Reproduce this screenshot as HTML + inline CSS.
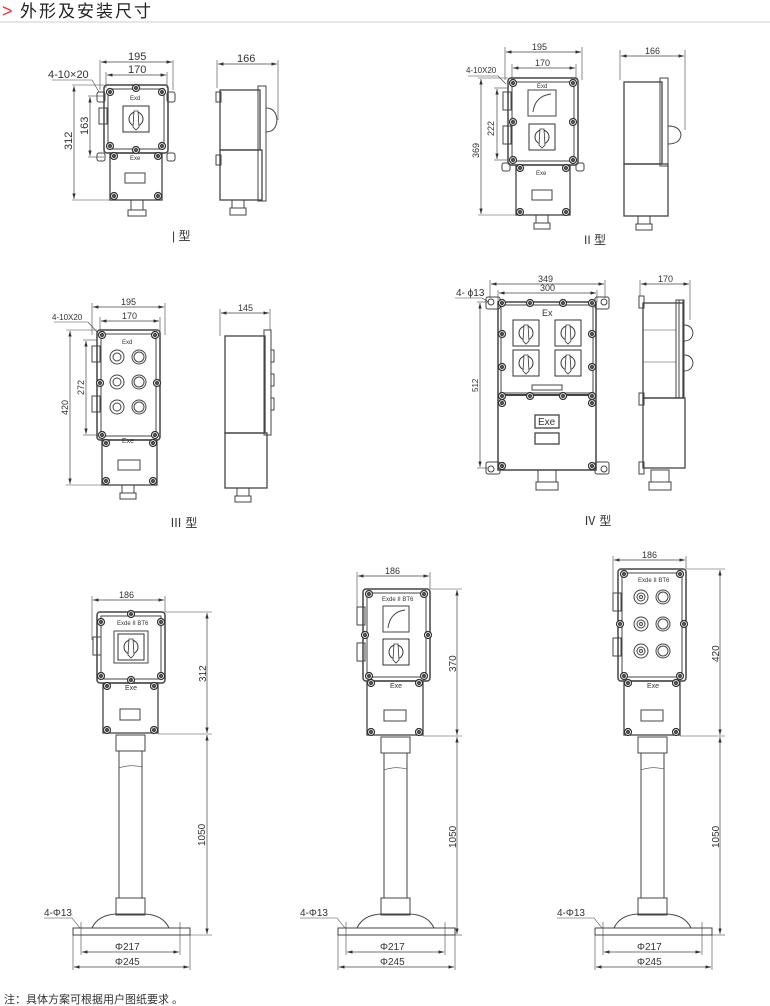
<!DOCTYPE html>
<html><head><meta charset="utf-8"><style>
html,body{margin:0;padding:0;background:#fff;width:770px;height:1006px;overflow:hidden}
svg{display:block}
text{font-family:"Liberation Sans","Noto Sans CJK SC",sans-serif;fill:#333}
</style></head><body>
<svg width="770" height="1006" viewBox="0 0 770 1006" xmlns="http://www.w3.org/2000/svg">
<defs>
<marker id="a" viewBox="0 0 10 6" refX="10" refY="3" markerWidth="8" markerHeight="5" orient="auto-start-reverse"><path d="M0,0L10,3L0,6z" fill="#333"/></marker>
<g id="bolt"><circle r="3.5" fill="#fff" stroke="#333" stroke-width="1.2"/><circle r="1.6" fill="#555"/></g>
<g id="sw"><rect x="-13" y="-13" width="26" height="26" fill="#fff" stroke="#333"/><circle r="7" fill="none" stroke="#333"/><path d="M-2,-8L2,-8L3,8L0,11L-3,8z" fill="#fff" stroke="#333" stroke-width=".8"/></g>
</defs>
<g fill="none" stroke="#444" stroke-width="1">
<line x1="0" y1="22" x2="770" y2="22" stroke="#ddd" stroke-width="1.5"/>

<!-- ===== Type I front ===== -->
<rect x="97" y="92" width="8" height="10" rx="2"/><rect x="167" y="92" width="8" height="10" rx="2"/>
<rect x="97" y="153" width="8" height="8" rx="2"/><rect x="167" y="153" width="8" height="8" rx="2"/>
<rect x="104" y="85" width="64" height="68" rx="3" stroke-width="1.5"/>
<rect x="108" y="89" width="56" height="60"/>
<use href="#sw" x="136" y="119"/>
<rect x="99" y="108" width="8" height="16"/>
<rect x="110" y="153" width="52" height="47" stroke-width="1.3"/>
<rect x="125" y="173" width="20" height="10"/>
<rect x="131" y="200" width="12" height="10"/><rect x="128" y="210" width="18" height="6"/>
<use href="#bolt" x="110" y="92"/><use href="#bolt" x="162" y="92"/><use href="#bolt" x="136" y="88"/>
<use href="#bolt" x="110" y="146"/><use href="#bolt" x="162" y="146"/><use href="#bolt" x="136" y="150"/>
<use href="#bolt" x="114" y="156"/><use href="#bolt" x="158" y="156"/><use href="#bolt" x="114" y="196"/><use href="#bolt" x="158" y="196"/>
<line x1="100" y1="60" x2="100" y2="90" stroke-width=".6"/><line x1="173" y1="60" x2="173" y2="90" stroke-width=".6"/>
<line x1="101" y1="62" x2="172" y2="62" marker-start="url(#a)" marker-end="url(#a)" stroke-width=".7"/>
<line x1="106" y1="72" x2="106" y2="88" stroke-width=".6"/><line x1="167" y1="72" x2="167" y2="88" stroke-width=".6"/>
<line x1="107" y1="75" x2="166" y2="75" marker-start="url(#a)" marker-end="url(#a)" stroke-width=".7"/>
<line x1="72" y1="85" x2="104" y2="85" stroke-width=".6"/><line x1="72" y1="200" x2="110" y2="200" stroke-width=".6"/>
<line x1="74" y1="86" x2="74" y2="199" marker-start="url(#a)" marker-end="url(#a)" stroke-width=".7"/>
<line x1="88" y1="96" x2="104" y2="96" stroke-width=".6"/><line x1="88" y1="157" x2="104" y2="157" stroke-width=".6"/>
<line x1="90" y1="97" x2="90" y2="156" marker-start="url(#a)" marker-end="url(#a)" stroke-width=".7"/>
<line x1="52" y1="80" x2="92" y2="80" stroke-width=".6"/><line x1="92" y1="80" x2="99" y2="92" stroke-width=".6"/>
<!-- Type I side -->
<rect x="220" y="90" width="40" height="60" stroke-width="1.3"/><rect x="220" y="150" width="42" height="50" stroke-width="1.3"/>
<rect x="258" y="86" width="8" height="115"/>
<rect x="216" y="92" width="5" height="10"/><rect x="216" y="155" width="5" height="10"/>
<path d="M266,108 Q276,108 277,120 Q276,132 266,132"/>
<rect x="232" y="200" width="12" height="8"/><rect x="230" y="208" width="16" height="7"/>
<line x1="217" y1="60" x2="217" y2="88" stroke-width=".6"/><line x1="278" y1="60" x2="278" y2="120" stroke-width=".6"/>
<line x1="218" y1="64" x2="277" y2="64" marker-start="url(#a)" marker-end="url(#a)" stroke-width=".7"/>

<!-- ===== Type II front ===== -->
<rect x="508" y="78" width="70" height="87" rx="3" stroke-width="1.5"/>
<rect x="512" y="82" width="62" height="79"/>
<rect x="528" y="90" width="28" height="26"/><path d="M533,112 Q535,96 551,94"/>
<use href="#sw" x="542" y="137"/>
<rect x="503" y="92" width="8" height="18"/><rect x="503" y="126" width="8" height="18"/>
<rect x="516" y="165" width="54" height="50" stroke-width="1.3"/><rect x="532" y="190" width="20" height="10"/>
<rect x="536" y="215" width="12" height="8"/><rect x="534" y="223" width="16" height="6"/>
<use href="#bolt" x="513" y="83"/><use href="#bolt" x="573" y="83"/><use href="#bolt" x="513" y="160"/><use href="#bolt" x="573" y="160"/>
<use href="#bolt" x="513" y="122"/><use href="#bolt" x="573" y="122"/>
<use href="#bolt" x="520" y="168"/><use href="#bolt" x="566" y="168"/><use href="#bolt" x="520" y="212"/><use href="#bolt" x="566" y="212"/>
<rect x="502" y="163" width="8" height="8" rx="2"/><rect x="576" y="163" width="8" height="8" rx="2"/>
<line x1="505" y1="47" x2="505" y2="80" stroke-width=".6"/><line x1="582" y1="47" x2="582" y2="80" stroke-width=".6"/>
<line x1="506" y1="52" x2="581" y2="52" marker-start="url(#a)" marker-end="url(#a)" stroke-width=".7"/>
<line x1="512" y1="64" x2="512" y2="80" stroke-width=".6"/><line x1="576" y1="64" x2="576" y2="80" stroke-width=".6"/>
<line x1="513" y1="68" x2="575" y2="68" marker-start="url(#a)" marker-end="url(#a)" stroke-width=".7"/>
<line x1="478" y1="78" x2="508" y2="78" stroke-width=".6"/><line x1="478" y1="215" x2="516" y2="215" stroke-width=".6"/>
<line x1="481" y1="79" x2="481" y2="214" marker-start="url(#a)" marker-end="url(#a)" stroke-width=".7"/>
<line x1="494" y1="88" x2="508" y2="88" stroke-width=".6"/><line x1="494" y1="160" x2="508" y2="160" stroke-width=".6"/>
<line x1="497" y1="89" x2="497" y2="159" marker-start="url(#a)" marker-end="url(#a)" stroke-width=".7"/>
<line x1="468" y1="76" x2="498" y2="76" stroke-width=".6"/><line x1="498" y1="76" x2="506" y2="84" stroke-width=".6"/>
<!-- Type II side -->
<rect x="624" y="82" width="38" height="82" stroke-width="1.3"/><rect x="624" y="164" width="44" height="52" stroke-width="1.3"/>
<rect x="660" y="78" width="8" height="88"/>
<path d="M668,126 Q680,126 681,135 Q680,144 668,144"/>
<rect x="638" y="216" width="12" height="8"/><rect x="636" y="224" width="16" height="6"/>
<line x1="620" y1="50" x2="620" y2="80" stroke-width=".6"/><line x1="685" y1="50" x2="685" y2="130" stroke-width=".6"/>
<line x1="621" y1="56" x2="684" y2="56" marker-start="url(#a)" marker-end="url(#a)" stroke-width=".7"/>

<!-- ===== Type III front ===== -->
<rect x="97" y="330" width="63" height="110" rx="3" stroke-width="1.5"/>
<rect x="101" y="334" width="55" height="102"/>
<circle cx="117" cy="357" r="7"/><circle cx="117" cy="357" r="4"/><circle cx="139" cy="357" r="7"/><circle cx="139" cy="357" r="5"/>
<circle cx="117" cy="382" r="7"/><circle cx="117" cy="382" r="4"/><circle cx="139" cy="382" r="7"/><circle cx="139" cy="382" r="5"/>
<circle cx="117" cy="407" r="7"/><circle cx="117" cy="407" r="4"/><circle cx="139" cy="407" r="7"/><circle cx="139" cy="407" r="5"/>
<rect x="92" y="346" width="8" height="16"/><rect x="92" y="396" width="8" height="16"/>
<rect x="102" y="440" width="55" height="45" stroke-width="1.3"/><rect x="118" y="460" width="22" height="10"/>
<rect x="122" y="485" width="12" height="8"/><rect x="120" y="493" width="16" height="6"/>
<use href="#bolt" x="102" y="335"/><use href="#bolt" x="155" y="335"/><use href="#bolt" x="102" y="435"/><use href="#bolt" x="155" y="435"/>
<use href="#bolt" x="100" y="383"/><use href="#bolt" x="157" y="383"/>
<use href="#bolt" x="106" y="443"/><use href="#bolt" x="153" y="443"/><use href="#bolt" x="106" y="481"/><use href="#bolt" x="153" y="481"/>
<line x1="92" y1="303" x2="92" y2="335" stroke-width=".6"/><line x1="165" y1="303" x2="165" y2="335" stroke-width=".6"/>
<line x1="93" y1="307" x2="164" y2="307" marker-start="url(#a)" marker-end="url(#a)" stroke-width=".7"/>
<line x1="100" y1="317" x2="100" y2="332" stroke-width=".6"/><line x1="160" y1="317" x2="160" y2="332" stroke-width=".6"/>
<line x1="101" y1="321" x2="159" y2="321" marker-start="url(#a)" marker-end="url(#a)" stroke-width=".7"/>
<line x1="66" y1="330" x2="97" y2="330" stroke-width=".6"/><line x1="66" y1="485" x2="102" y2="485" stroke-width=".6"/>
<line x1="70" y1="331" x2="70" y2="484" marker-start="url(#a)" marker-end="url(#a)" stroke-width=".7"/>
<line x1="83" y1="340" x2="97" y2="340" stroke-width=".6"/><line x1="83" y1="435" x2="97" y2="435" stroke-width=".6"/>
<line x1="86" y1="341" x2="86" y2="434" marker-start="url(#a)" marker-end="url(#a)" stroke-width=".7"/>
<line x1="54" y1="322" x2="88" y2="322" stroke-width=".6"/><line x1="88" y1="322" x2="98" y2="333" stroke-width=".6"/>
<!-- Type III side -->
<rect x="225" y="336" width="40" height="97" stroke-width="1.3"/><rect x="225" y="433" width="42" height="55" stroke-width="1.3"/>
<rect x="264" y="330" width="7" height="105"/>
<rect x="271" y="350" width="3" height="12"/><rect x="271" y="374" width="3" height="12"/><rect x="271" y="398" width="3" height="12"/>
<rect x="237" y="488" width="12" height="8"/><rect x="235" y="496" width="16" height="6"/>
<line x1="220" y1="309" x2="220" y2="336" stroke-width=".6"/><line x1="270" y1="309" x2="270" y2="330" stroke-width=".6"/>
<line x1="221" y1="313" x2="269" y2="313" marker-start="url(#a)" marker-end="url(#a)" stroke-width=".7"/>

<!-- ===== Type IV front ===== -->
<rect x="486" y="297" width="14" height="12" rx="2"/><rect x="595" y="297" width="14" height="12" rx="2"/>
<rect x="486" y="462" width="14" height="12" rx="2"/><rect x="595" y="462" width="14" height="12" rx="2"/>
<circle cx="491" cy="302" r="3"/><circle cx="604" cy="302" r="3"/><circle cx="491" cy="469" r="3"/><circle cx="604" cy="469" r="3"/>
<rect x="498" y="302" width="98" height="168" stroke-width="1.5"/>
<rect x="501" y="305" width="92" height="88"/>
<line x1="498" y1="395" x2="596" y2="395" stroke-width="2"/>
<use href="#sw" x="526" y="333"/><use href="#sw" x="568" y="333"/>
<use href="#sw" x="526" y="363"/><use href="#sw" x="568" y="363"/>
<rect x="532" y="385" width="30" height="5"/>
<rect x="535" y="415" width="24" height="13" stroke-width="1.3"/><rect x="535" y="433" width="24" height="11" stroke-width="1.3"/>
<rect x="538" y="470" width="18" height="12"/><rect x="536" y="482" width="22" height="8"/>
<use href="#bolt" x="502" y="303"/><use href="#bolt" x="530" y="303"/><use href="#bolt" x="563" y="303"/><use href="#bolt" x="592" y="303"/>
<use href="#bolt" x="502" y="334"/><use href="#bolt" x="592" y="334"/><use href="#bolt" x="502" y="367"/><use href="#bolt" x="592" y="367"/>
<use href="#bolt" x="502" y="396"/><use href="#bolt" x="530" y="396"/><use href="#bolt" x="563" y="396"/><use href="#bolt" x="592" y="396"/>
<use href="#bolt" x="502" y="403"/><use href="#bolt" x="592" y="403"/><use href="#bolt" x="502" y="466"/><use href="#bolt" x="592" y="466"/>
<line x1="490" y1="280" x2="490" y2="298" stroke-width=".6"/><line x1="605" y1="280" x2="605" y2="298" stroke-width=".6"/>
<line x1="491" y1="284" x2="604" y2="284" marker-start="url(#a)" marker-end="url(#a)" stroke-width=".7"/>
<line x1="498" y1="290" x2="498" y2="302" stroke-width=".6"/><line x1="597" y1="290" x2="597" y2="302" stroke-width=".6"/>
<line x1="499" y1="293" x2="596" y2="293" marker-start="url(#a)" marker-end="url(#a)" stroke-width=".7"/>
<line x1="477" y1="302" x2="488" y2="302" stroke-width=".6"/><line x1="477" y1="468" x2="488" y2="468" stroke-width=".6"/>
<line x1="480" y1="303" x2="480" y2="467" marker-start="url(#a)" marker-end="url(#a)" stroke-width=".7"/>
<line x1="455" y1="298" x2="482" y2="298" stroke-width=".6"/><line x1="482" y1="298" x2="489" y2="302" stroke-width=".6"/>
<!-- Type IV side -->
<rect x="643" y="303" width="40" height="95" stroke-width="1.3"/><rect x="643" y="398" width="42" height="70" stroke-width="1.3"/>
<rect x="676" y="300" width="8" height="98"/><rect x="679" y="300" width="4" height="98"/>
<rect x="639" y="296" width="5" height="12"/><rect x="639" y="393" width="5" height="12"/><rect x="639" y="462" width="5" height="12"/>
<path d="M684,325 Q692,325 693,333 Q692,341 684,341"/><path d="M684,355 Q692,355 693,363 Q692,371 684,371"/>
<line x1="643" y1="330" x2="676" y2="330" stroke-width=".6"/><line x1="643" y1="362" x2="676" y2="362" stroke-width=".6"/>
<rect x="651" y="470" width="18" height="12"/><rect x="649" y="482" width="22" height="8"/>
<line x1="640" y1="280" x2="640" y2="296" stroke-width=".6"/><line x1="690" y1="280" x2="690" y2="320" stroke-width=".6"/>
<line x1="641" y1="284" x2="689" y2="284" marker-start="url(#a)" marker-end="url(#a)" stroke-width=".7"/>

<!-- ===== Stand 1 ===== -->
<rect x="97" y="612" width="68" height="71" rx="3" stroke-width="1.5"/><rect x="101" y="616" width="60" height="63"/>
<rect x="114" y="631" width="34" height="32" fill="#fff"/><use href="#sw" x="131" y="647"/>
<rect x="93" y="637" width="8" height="18"/>
<rect x="103" y="683" width="55" height="50" stroke-width="1.3"/><rect x="120" y="709" width="20" height="11"/>
<use href="#bolt" x="101" y="622"/><use href="#bolt" x="161" y="622"/><use href="#bolt" x="101" y="676"/><use href="#bolt" x="161" y="676"/>
<use href="#bolt" x="131" y="614"/><use href="#bolt" x="131" y="680"/>
<use href="#bolt" x="107" y="686"/><use href="#bolt" x="154" y="686"/><use href="#bolt" x="107" y="730"/><use href="#bolt" x="154" y="730"/>
<rect x="116" y="735" width="29" height="16"/><rect x="119" y="751" width="23" height="147"/>
<path d="M119,768 Q130,764 142,767" stroke-width=".6"/>
<rect x="116" y="898" width="29" height="17"/>
<path d="M92,928 Q98,915 116,914 L145,914 Q163,915 169,928"/>
<rect x="73" y="928" width="117" height="7"/>
<line x1="92" y1="596" x2="92" y2="640" stroke-width=".6"/><line x1="165" y1="596" x2="165" y2="612" stroke-width=".6"/>
<line x1="93" y1="600" x2="164" y2="600" marker-start="url(#a)" marker-end="url(#a)" stroke-width=".7"/>
<line x1="165" y1="612" x2="212" y2="612" stroke-width=".6"/><line x1="158" y1="734" x2="212" y2="734" stroke-width=".6"/><line x1="190" y1="935" x2="212" y2="935" stroke-width=".6"/>
<line x1="207" y1="613" x2="207" y2="733" marker-start="url(#a)" marker-end="url(#a)" stroke-width=".7"/>
<line x1="207" y1="735" x2="207" y2="934" marker-start="url(#a)" marker-end="url(#a)" stroke-width=".7"/>
<line x1="81" y1="922" x2="81" y2="955" stroke-width=".6"/><line x1="180" y1="922" x2="180" y2="955" stroke-width=".6"/>
<line x1="82" y1="952" x2="179" y2="952" marker-start="url(#a)" marker-end="url(#a)" stroke-width=".7"/>
<line x1="73" y1="935" x2="73" y2="970" stroke-width=".6"/><line x1="190" y1="935" x2="190" y2="970" stroke-width=".6"/>
<line x1="74" y1="967" x2="189" y2="967" marker-start="url(#a)" marker-end="url(#a)" stroke-width=".7"/>
<line x1="44" y1="918" x2="72" y2="918" stroke-width=".6"/><line x1="72" y1="918" x2="80" y2="928" stroke-width=".6"/>

<!-- ===== Stand 2 ===== -->
<rect x="363" y="589" width="67" height="92" rx="3" stroke-width="1.5"/><rect x="367" y="593" width="59" height="84"/>
<rect x="383" y="606" width="26" height="26"/><path d="M388,628 Q390,612 405,610"/>
<use href="#sw" x="396" y="652"/>
<rect x="357" y="607" width="8" height="18"/><rect x="357" y="643" width="8" height="18"/>
<rect x="367" y="681" width="56" height="54" stroke-width="1.3"/><rect x="384" y="710" width="22" height="11"/>
<use href="#bolt" x="369" y="594"/><use href="#bolt" x="424" y="594"/><use href="#bolt" x="369" y="676"/><use href="#bolt" x="424" y="676"/>
<use href="#bolt" x="365" y="635"/><use href="#bolt" x="428" y="635"/>
<use href="#bolt" x="371" y="683"/><use href="#bolt" x="419" y="683"/><use href="#bolt" x="371" y="732"/><use href="#bolt" x="419" y="732"/>
<rect x="381" y="737" width="29" height="16"/><rect x="384" y="753" width="23" height="145"/>
<path d="M384,770 Q395,766 407,769" stroke-width=".6"/>
<rect x="381" y="898" width="29" height="17"/>
<path d="M357,928 Q363,915 381,914 L410,914 Q428,915 434,928"/>
<rect x="338" y="928" width="117" height="7"/>
<line x1="357" y1="572" x2="357" y2="607" stroke-width=".6"/><line x1="430" y1="572" x2="430" y2="589" stroke-width=".6"/>
<line x1="358" y1="576" x2="429" y2="576" marker-start="url(#a)" marker-end="url(#a)" stroke-width=".7"/>
<line x1="430" y1="589" x2="462" y2="589" stroke-width=".6"/><line x1="423" y1="736" x2="462" y2="736" stroke-width=".6"/><line x1="455" y1="935" x2="462" y2="935" stroke-width=".6"/>
<line x1="457" y1="590" x2="457" y2="735" marker-start="url(#a)" marker-end="url(#a)" stroke-width=".7"/>
<line x1="457" y1="737" x2="457" y2="934" marker-start="url(#a)" marker-end="url(#a)" stroke-width=".7"/>
<line x1="346" y1="922" x2="346" y2="955" stroke-width=".6"/><line x1="445" y1="922" x2="445" y2="955" stroke-width=".6"/>
<line x1="347" y1="952" x2="444" y2="952" marker-start="url(#a)" marker-end="url(#a)" stroke-width=".7"/>
<line x1="338" y1="935" x2="338" y2="970" stroke-width=".6"/><line x1="455" y1="935" x2="455" y2="970" stroke-width=".6"/>
<line x1="339" y1="967" x2="454" y2="967" marker-start="url(#a)" marker-end="url(#a)" stroke-width=".7"/>
<line x1="300" y1="918" x2="337" y2="918" stroke-width=".6"/><line x1="337" y1="918" x2="345" y2="928" stroke-width=".6"/>

<!-- ===== Stand 3 ===== -->
<rect x="618" y="569" width="68" height="112" rx="3" stroke-width="1.5"/><rect x="622" y="573" width="60" height="104"/>
<circle cx="641" cy="597" r="7"/><circle cx="641" cy="597" r="4"/><circle cx="641" cy="597" r="1.5"/><circle cx="663" cy="597" r="7"/><circle cx="663" cy="597" r="5"/>
<circle cx="641" cy="624" r="7"/><circle cx="641" cy="624" r="4"/><circle cx="641" cy="624" r="1.5"/><circle cx="663" cy="624" r="7"/><circle cx="663" cy="624" r="5"/>
<circle cx="641" cy="651" r="7"/><circle cx="641" cy="651" r="4"/><circle cx="641" cy="651" r="1.5"/><circle cx="663" cy="651" r="7"/><circle cx="663" cy="651" r="5"/>
<rect x="613" y="593" width="8" height="18"/><rect x="613" y="638" width="8" height="18"/>
<rect x="624" y="681" width="56" height="54" stroke-width="1.3"/><rect x="641" y="710" width="22" height="11"/>
<use href="#bolt" x="624" y="574"/><use href="#bolt" x="680" y="574"/><use href="#bolt" x="624" y="676"/><use href="#bolt" x="680" y="676"/>
<use href="#bolt" x="620" y="624"/><use href="#bolt" x="684" y="624"/>
<use href="#bolt" x="628" y="683"/><use href="#bolt" x="676" y="683"/><use href="#bolt" x="628" y="732"/><use href="#bolt" x="676" y="732"/>
<rect x="638" y="737" width="29" height="16"/><rect x="641" y="753" width="23" height="145"/>
<path d="M641,770 Q652,766 664,769" stroke-width=".6"/>
<rect x="638" y="898" width="29" height="17"/>
<path d="M614,928 Q620,915 638,914 L667,914 Q685,915 691,928"/>
<rect x="595" y="928" width="117" height="7"/>
<line x1="613" y1="556" x2="613" y2="593" stroke-width=".6"/><line x1="686" y1="556" x2="686" y2="569" stroke-width=".6"/>
<line x1="614" y1="560" x2="685" y2="560" marker-start="url(#a)" marker-end="url(#a)" stroke-width=".7"/>
<line x1="686" y1="569" x2="725" y2="569" stroke-width=".6"/><line x1="680" y1="736" x2="725" y2="736" stroke-width=".6"/><line x1="712" y1="935" x2="725" y2="935" stroke-width=".6"/>
<line x1="720" y1="570" x2="720" y2="735" marker-start="url(#a)" marker-end="url(#a)" stroke-width=".7"/>
<line x1="720" y1="737" x2="720" y2="934" marker-start="url(#a)" marker-end="url(#a)" stroke-width=".7"/>
<line x1="603" y1="922" x2="603" y2="955" stroke-width=".6"/><line x1="702" y1="922" x2="702" y2="955" stroke-width=".6"/>
<line x1="604" y1="952" x2="701" y2="952" marker-start="url(#a)" marker-end="url(#a)" stroke-width=".7"/>
<line x1="595" y1="935" x2="595" y2="970" stroke-width=".6"/><line x1="712" y1="935" x2="712" y2="970" stroke-width=".6"/>
<line x1="596" y1="967" x2="711" y2="967" marker-start="url(#a)" marker-end="url(#a)" stroke-width=".7"/>
<line x1="557" y1="918" x2="594" y2="918" stroke-width=".6"/><line x1="594" y1="918" x2="602" y2="928" stroke-width=".6"/>
</g>

<text x="2" y="17" font-size="18" style="fill:#e33">&gt;</text>
<text x="20" y="17" font-size="17" style="fill:#222;letter-spacing:2px">外形及安装尺寸</text>

<g font-size="11">
<text x="128" y="60">195</text><text x="128" y="73">170</text><text x="48" y="78">4-10×20</text>
<text x="72" y="150" transform="rotate(-90 72 150)">312</text><text x="88" y="135" transform="rotate(-90 88 135)">163</text>
<text x="237" y="62">166</text>
<text x="532" y="50" font-size="9">195</text><text x="535" y="66" font-size="9">170</text><text x="466" y="73" font-size="8">4-10X20</text>
<text x="479" y="158" font-size="9" transform="rotate(-90 479 158)">369</text><text x="494" y="136" font-size="9" transform="rotate(-90 494 136)">222</text>
<text x="645" y="54" font-size="9">166</text>
<text x="121" y="305" font-size="9">195</text><text x="122" y="319" font-size="9">170</text><text x="52" y="320" font-size="8">4-10X20</text>
<text x="68" y="415" font-size="9" transform="rotate(-90 68 415)">420</text><text x="84" y="395" font-size="9" transform="rotate(-90 84 395)">272</text>
<text x="238" y="311" font-size="9">145</text>
<text x="538" y="282" font-size="9">349</text><text x="540" y="291" font-size="9">300</text><text x="456" y="296" font-size="10">4- ϕ13</text>
<text x="478" y="392" font-size="8" transform="rotate(-90 478 392)">512</text>
<text x="658" y="282" font-size="9">170</text>
<text x="119" y="598" font-size="9">186</text><text x="385" y="574" font-size="9">186</text><text x="642" y="558" font-size="9">186</text>
<text x="206" y="682" font-size="10" transform="rotate(-90 206 682)">312</text>
<text x="205" y="846" font-size="10" transform="rotate(-90 205 846)">1050</text>
<text x="456" y="672" font-size="10" transform="rotate(-90 456 672)">370</text>
<text x="456" y="848" font-size="10" transform="rotate(-90 456 848)">1050</text>
<text x="719" y="662" font-size="10" transform="rotate(-90 719 662)">420</text>
<text x="719" y="848" font-size="10" transform="rotate(-90 719 848)">1050</text>
<text x="44" y="916" font-size="10">4-Φ13</text><text x="300" y="916" font-size="10">4-Φ13</text><text x="557" y="916" font-size="10">4-Φ13</text>
<text x="115" y="950" font-size="10">Φ217</text><text x="115" y="965" font-size="10">Φ245</text>
<text x="380" y="950" font-size="10">Φ217</text><text x="380" y="965" font-size="10">Φ245</text>
<text x="637" y="950" font-size="10">Φ217</text><text x="637" y="965" font-size="10">Φ245</text>
</g>
<g font-size="6" style="fill:#555">
<text x="130" y="100">Exd</text><text x="130" y="160">Exe</text>
<text x="537" y="88">Exd</text><text x="536" y="175">Exe</text>
<text x="122" y="344">Exd</text><text x="122" y="443" font-size="7">Exe</text>
<text x="117" y="625">Exde II BT6</text><text x="125" y="690" font-size="7">Exe</text>
<text x="382" y="601">Exde II BT6</text><text x="390" y="688" font-size="7">Exe</text>
<text x="638" y="582">Exde II BT6</text><text x="647" y="688" font-size="7">Exe</text>
</g>
<text x="542" y="316" font-size="9" font-family="Liberation Serif">Ex</text>
<text x="538" y="425" font-size="10">Exe</text>
<g font-size="12" style="fill:#333">
<text x="172" y="240">| 型</text><text x="584" y="244">II 型</text><text x="170" y="527">Ⅲ 型</text><text x="584" y="525">Ⅳ 型</text>
</g>
<text x="4" y="1003" font-size="11" style="fill:#333">注：具体方案可根据用户图纸要求 。</text>
</svg>
</body></html>
